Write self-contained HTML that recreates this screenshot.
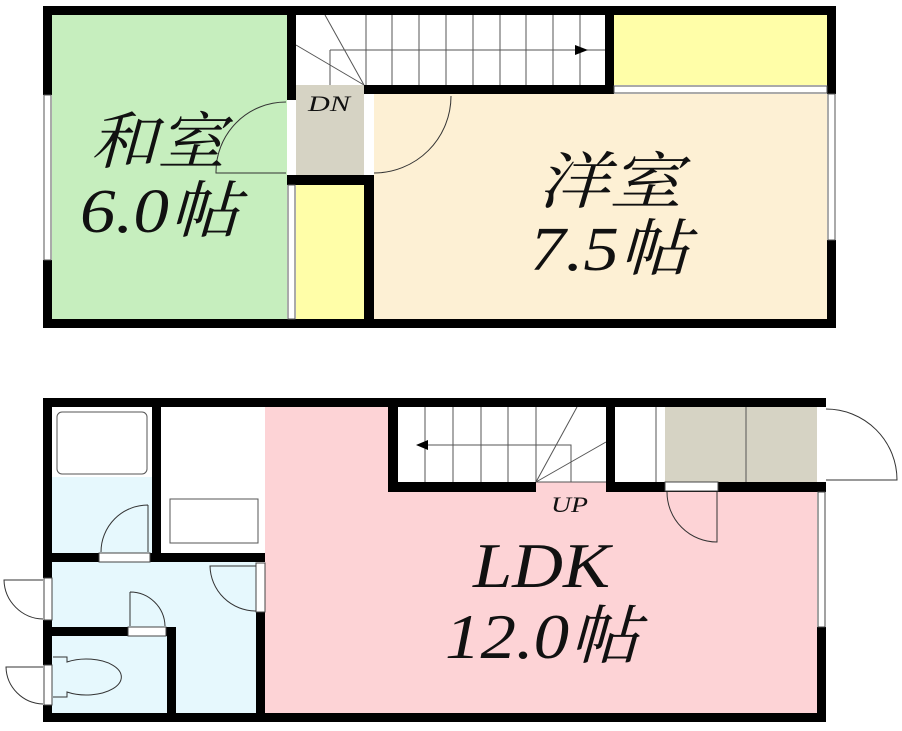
<!DOCTYPE html>
<html><head><meta charset="utf-8"><style>
html,body{margin:0;padding:0;background:#fff;width:902px;height:731px;overflow:hidden}
svg{display:block}
text{font-family:"Liberation Serif","Noto Serif CJK SC",serif;font-style:italic;fill:#111}
</style></head><body>
<svg width="902" height="731" viewBox="0 0 902 731" xmlns="http://www.w3.org/2000/svg">
<!-- ===== TOP FLOOR ===== -->
<rect x="52" y="15" width="235" height="304" fill="#c6eebe"/>
<rect x="296" y="15" width="309" height="70" fill="#fff"/>
<rect x="614" y="15" width="213" height="70" fill="#fffea8"/>
<rect x="296" y="85" width="68" height="90" fill="#d6d3c4"/>
<rect x="296" y="185" width="68" height="134" fill="#fffea8"/>
<rect x="374" y="94" width="453" height="225" fill="#fdf0d4"/>
<g stroke="#555" stroke-width="1" fill="none">
<line x1="330" y1="50" x2="605" y2="50"/>
<path d="M330 85 V50"/>
<line x1="366" y1="15" x2="366" y2="85"/><line x1="392" y1="15" x2="392" y2="85"/><line x1="419" y1="15" x2="419" y2="85"/><line x1="446" y1="15" x2="446" y2="85"/><line x1="473" y1="15" x2="473" y2="85"/><line x1="500" y1="15" x2="500" y2="85"/><line x1="526" y1="15" x2="526" y2="85"/><line x1="553" y1="15" x2="553" y2="85"/><line x1="580" y1="15" x2="580" y2="85"/>
<line x1="364" y1="85" x2="296" y2="45"/><line x1="364" y1="85" x2="325" y2="15"/>
</g>
<polygon points="575,45 588,50 575,55" fill="#000"/>
<g fill="#000">
<rect x="43" y="6" width="793" height="9"/>
<rect x="43" y="319" width="793" height="9"/>
<rect x="43" y="6" width="9" height="89"/>
<rect x="43" y="260" width="9" height="68"/>
<rect x="827" y="6" width="9" height="88"/>
<rect x="827" y="240" width="9" height="88"/>
<rect x="287" y="6" width="9" height="94"/>
<rect x="287" y="175" width="85" height="10"/>
<rect x="364" y="85" width="250" height="9"/>
<rect x="605" y="6" width="9" height="88"/>
<rect x="364" y="175" width="10" height="153"/>
</g>
<g stroke="#555" stroke-width="1" fill="#fff">
<rect x="44" y="95" width="7" height="165"/>
<rect x="828" y="94" width="7" height="146"/>
<rect x="614" y="86" width="213" height="7"/>
<rect x="288" y="185" width="7" height="134"/>
<rect x="287" y="100" width="9" height="75" stroke="none"/>
<rect x="364" y="94" width="8" height="81" stroke="none"/>
</g>
<g stroke="#333" stroke-width="1" fill="none">
<path d="M286 102 A70 70 0 0 0 216 173 H286"/>
<path d="M374 173 A77 77 0 0 0 451 96"/>
</g>
<text x="308" y="111" font-size="22" textLength="42" lengthAdjust="spacingAndGlyphs">DN</text>
<text x="90" y="163" font-size="62" textLength="135" lengthAdjust="spacingAndGlyphs">和室</text>
<text x="80" y="232" font-size="62" textLength="160" lengthAdjust="spacingAndGlyphs">6.0帖</text>
<text x="537" y="203" font-size="62" textLength="145" lengthAdjust="spacingAndGlyphs">洋室</text>
<text x="530" y="270" font-size="62" textLength="160" lengthAdjust="spacingAndGlyphs">7.5帖</text>

<!-- ===== BOTTOM FLOOR ===== -->
<rect x="52" y="407" width="100" height="70" fill="#fff"/>
<rect x="52" y="477" width="100" height="76" fill="#e6f8fd"/>
<rect x="161" y="407" width="104" height="146" fill="#fff"/>
<rect x="52" y="562" width="204" height="151" fill="#e6f8fd"/>
<rect x="265" y="407" width="552" height="306" fill="#fdd3d6"/>
<rect x="398" y="407" width="208" height="75" fill="#fff"/>
<rect x="615" y="407" width="50" height="75" fill="#fff"/>
<rect x="665" y="407" width="152" height="75" fill="#d6d3c4"/>
<g stroke="#555" stroke-width="1" fill="none">
<rect x="57" y="412" width="90" height="62" rx="5"/>
<rect x="170" y="499" width="88" height="44"/>
<line x1="425" y1="407" x2="425" y2="482"/><line x1="453" y1="407" x2="453" y2="482"/><line x1="481" y1="407" x2="481" y2="482"/><line x1="508" y1="407" x2="508" y2="482"/><line x1="536" y1="407" x2="536" y2="482"/>
<path d="M420 445 H571 V482"/>
<line x1="536" y1="482" x2="606" y2="482"/>
<line x1="536" y1="482" x2="577" y2="407"/><line x1="536" y1="482" x2="606" y2="442"/>
<line x1="656" y1="407" x2="656" y2="482"/>
<line x1="746" y1="407" x2="746" y2="482"/>
</g>
<polygon points="416,445 428,440 428,450" fill="#000"/>
<g fill="#000">
<rect x="43" y="398" width="783" height="9"/>
<rect x="43" y="713" width="783" height="9"/>
<rect x="43" y="398" width="9" height="180"/>
<rect x="43" y="620" width="9" height="45"/>
<rect x="43" y="705" width="9" height="17"/>
<rect x="817" y="398" width="9" height="94"/>
<rect x="817" y="627" width="9" height="95"/>
<rect x="152" y="398" width="9" height="164"/>
<rect x="43" y="553" width="222" height="9"/>
<rect x="256" y="612" width="9" height="110"/>
<rect x="52" y="627" width="124" height="9"/>
<rect x="167" y="627" width="9" height="95"/>
<rect x="388" y="398" width="10" height="94"/>
<rect x="388" y="482" width="148" height="10"/>
<rect x="606" y="398" width="9" height="94"/>
<rect x="606" y="482" width="220" height="10"/>
</g>
<g stroke="#444" stroke-width="1" fill="#fff">
<rect x="99" y="553" width="51" height="9"/>
<rect x="256" y="563" width="9" height="49"/>
<rect x="128" y="627" width="38" height="9"/>
<rect x="665" y="482" width="53" height="9"/>
<rect x="44" y="578" width="8" height="42"/>
<rect x="44" y="665" width="8" height="40"/>
<rect x="818" y="492" width="7" height="135"/>
<rect x="817" y="407" width="9" height="75" stroke="none"/>
</g>
<g stroke="#333" stroke-width="1" fill="none">
<path d="M148 505 A47 47 0 0 0 101 552 M148 505 V552"/>
<path d="M256 566 H210 A46 46 0 0 0 256 611"/>
<path d="M130 592 V626 M130 592 A35 35 0 0 1 165 626"/>
<path d="M43 580 H4 A40 40 0 0 0 43 619"/>
<path d="M43 667 H6 A38 38 0 0 0 43 704"/>
<path d="M667 492 A50 50 0 0 0 717 542 V492"/>
<path d="M826 409 A71 71 0 0 1 897 480 H826"/>
<path d="M53 657 H67 V662 A35 18 0 1 1 67 692 V697 H53"/>
</g>
<text x="551" y="512" font-size="22" textLength="37" lengthAdjust="spacingAndGlyphs">UP</text>
<text x="473" y="587" font-size="64" textLength="137" lengthAdjust="spacingAndGlyphs">LDK</text>
<text x="445" y="658" font-size="64" textLength="195" lengthAdjust="spacingAndGlyphs">12.0帖</text>
</svg>
</body></html>
